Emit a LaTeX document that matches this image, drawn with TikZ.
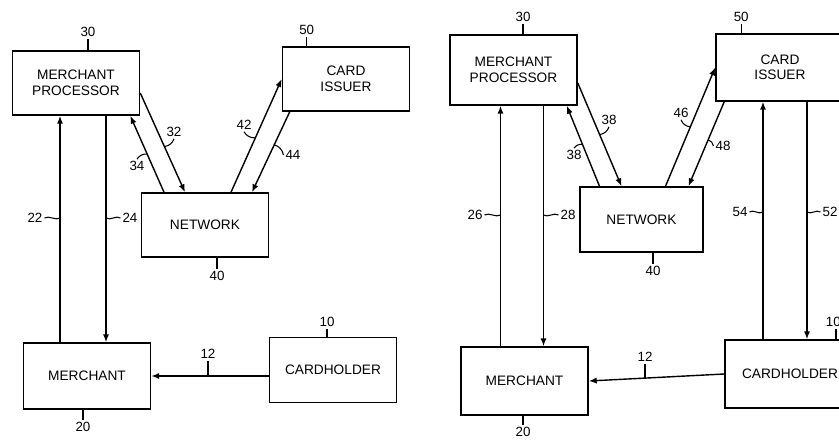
\documentclass[tikz,border=0pt]{standalone}
\usepackage{fontspec}
\setmainfont{Liberation Sans}
\usetikzlibrary{arrows.meta,positioning,calc}

\begin{document}
\begin{tikzpicture}[x=0.02cm,y=-0.02cm,
    box/.style={draw,line width=0.9pt,minimum width=2.54cm,minimum height=1.28cm,
      align=center,inner sep=1pt,font=\fontsize{7.8}{8.8}\selectfont},
    num/.style={inner sep=1pt,font=\fontsize{7.6}{8}\selectfont},
    flow/.style={line width=0.8pt,-{Latex[length=4.5pt,width=3.5pt]}},
    lead/.style={line width=0.6pt}]
    \useasboundingbox (0,0) rectangle (839,440);
    \clip (0,0) rectangle (839,440);

    % left figure
    \node[box] (mp1) at (76,83) {MERCHANT\\PROCESSOR};
    \node[box] (ci1) at (346,79) {CARD\\ISSUER};
    \node[box] (nw1) at (205,225) {NETWORK};
    \node[box,minimum height=1.32cm] (me1) at (87,376) {MERCHANT};
    \node[box,minimum height=1.3cm] (ch1) at (333,370) {CARDHOLDER};

    \draw[lead] ($(mp1.north)+(12,0)$) -- ++(0,-11) node[num,above] (n30a) {30};
    \draw[lead] ($(ci1.north west)+(25,0)$) -- ++(0,-9) node[num,above] (n50a) {50};
    \draw[lead] ($(nw1.south)+(12,0)$) -- ++(0,11) node[num,below] (n40a) {40};
    \draw[lead] ($(me1.south)+(-4,0)$) -- ++(0,10) node[num,below] (n20a) {20};
    \draw[lead] ($(ch1.north)+(-6,0)$) -- ++(0,-8) node[num,above] (n10a) {10};

    \coordinate (a22) at ($(me1.north)+(-27,0)$);
    \coordinate (a24) at ($(mp1.south)+(30,0)$);
    \draw[flow] (a22) -- (a22 |- mp1.south);
    \draw[flow] (a24) -- (a24 |- me1.north);
    \node[num] (l22) at (35,218) {22};
    \node[num] (l24) at (130,218) {24};
    \draw[lead] (l22.east) .. controls +(4,-3) and +(-4,3) .. (l22.east -| a22);
    \draw[lead] (l24.west) .. controls +(-4,-3) and +(4,3) .. (l24.west -| a24);

    \draw[flow] ($(mp1.east)+(0,10)$) -- coordinate[pos=0.54] (c32) ($(nw1.north)+(-20,0)$);
    \draw[flow] ($(nw1.north)+(-41,0)$) -- coordinate[pos=0.5] (c34) ($(mp1.south east)+(-10,0)$);
    \draw[flow] ($(nw1.north)+(26,0)$) -- coordinate[pos=0.48] (c42) (ci1.west);
    \draw[flow] ($(ci1.south west)+(8,0)$) -- coordinate[pos=0.41] (c44) ($(nw1.north)+(47,0)$);
    \node[num] (l32) at (174,132) {32};
    \node[num] (l34) at (137,166) {34};
    \node[num] (l42) at (244,125) {42};
    \node[num] (l44) at (293,155) {44};
    \draw[lead] (l32.south) to[bend left=30] (c32);
    \draw[lead] (l34.north) to[bend left=30] (c34);
    \draw[lead] (l42.south) to[bend right=30] (c42);
    \draw[lead] (l44.west) to[bend right=30] (c44);

    \draw[flow] (ch1.west |- me1.east) -- coordinate[pos=0.51] (c12a) (me1.east);
    \node[num] (l12a) at (208,354) {12};
    \draw[lead] (l12a.south) -- (l12a.south |- c12a);

    % right figure
    \node[box,minimum height=1.4cm] (mp2) at (513.5,70) {MERCHANT\\PROCESSOR};
    \node[box,minimum height=1.34cm,minimum width=2.56cm] (ci2) at (780,67.5) {CARD\\ISSUER};
    \node[box,minimum height=1.3cm,minimum width=2.46cm] (nw2) at (641.5,219.5) {NETWORK};
    \node[box,minimum height=1.36cm] (me2) at (524.5,381) {MERCHANT};
    \node[box,minimum height=1.36cm,minimum width=2.6cm] (ch2) at (790,374) {CARDHOLDER};

    \draw[lead] ($(mp2.north)+(9.5,0)$) -- ++(0,-10) node[num,above] (n30b) {30};
    \draw[lead] ($(ci2.north west)+(26,0)$) -- ++(0,-9) node[num,above] (n50b) {50};
    \draw[lead] ($(nw2.south)+(11.5,0)$) -- ++(0,11) node[num,below] (n40b) {40};
    \draw[lead] ($(me2.south)+(-1.5,0)$) -- ++(0,9) node[num,below] (n20b) {20};
    \draw[lead] ($(ch2.north)+(46,0)$) -- ++(0,-10) node[num,above left=0pt and -4pt] (n10b) {10};

    \coordinate (a26) at ($(me2.north)+(-24,0)$);
    \coordinate (a28) at ($(mp2.south)+(30,0)$);
    \coordinate (a54) at ($(ch2.north)+(-27,0)$);
    \coordinate (a52) at ($(ci2.south)+(27,0)$);
    \draw[flow] (a26) -- (a26 |- mp2.south);
    \draw[flow] (a28) -- (a28 |- me2.north);
    \draw[flow] (a54) -- (a54 |- ci2.south);
    \draw[flow] (a52) -- (a52 |- ch2.north);
    \node[num] (l26) at (475,215) {26};
    \node[num] (l28) at (568,215) {28};
    \node[num] (l54) at (740,212) {54};
    \node[num] (l52) at (830,212) {52};
    \draw[lead] (l26.east) .. controls +(4,-3) and +(-4,3) .. (l26.east -| a26);
    \draw[lead] (l28.west) .. controls +(-4,-3) and +(4,3) .. (l28.west -| a28);
    \draw[lead] (l54.east) .. controls +(4,-3) and +(-4,3) .. (l54.east -| a54);
    \draw[lead] (l52.west) .. controls +(-4,-3) and +(4,3) .. (l52.west -| a52);

    \draw[flow] ($(mp2.east)+(0,13)$) -- coordinate[pos=0.5] (c36) ($(nw2.north)+(-20,0)$);
    \draw[flow] ($(nw2.north)+(-42,0)$) -- coordinate[pos=0.52] (c38) ($(mp2.south east)+(-11,0)$);
    \draw[flow] ($(nw2.north)+(24,0)$) -- coordinate[pos=0.5] (c46) (ci2.west);
    \draw[flow] ($(ci2.south west)+(9,0)$) -- coordinate[pos=0.45] (c48) ($(nw2.north)+(47,0)$);
    \node[num] (l36) at (609,120) {38};
    \node[num] (l38) at (574,155) {38};
    \node[num] (l46) at (681,113) {46};
    \node[num] (l48) at (723,146) {48};
    \draw[lead] (l36.south) to[bend left=30] (c36);
    \draw[lead] (l38.north) to[bend left=30] (c38);
    \draw[lead] (l46.south) to[bend right=30] (c46);
    \draw[lead] (l48.west) to[bend right=30] (c48);

    \draw[flow] (ch2.west) -- coordinate[pos=0.58] (c12b) (me2.east);
    \node[num] (l12b) at (645,357) {12};
    \draw[lead] (l12b.south) -- (l12b.south |- c12b);
\end{tikzpicture}
\end{document}
